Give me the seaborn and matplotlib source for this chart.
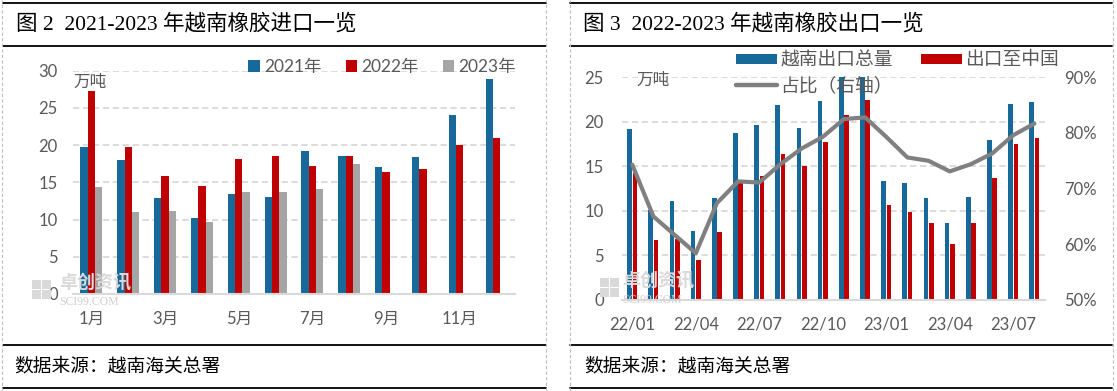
import numpy as np
import pandas as pd
import seaborn as sns
import matplotlib
matplotlib.use('Agg')
import matplotlib.pyplot as plt
from matplotlib.lines import Line2D
from matplotlib.patches import Patch, Rectangle

# ---- data: Vietnam rubber imports (10k t) ----
months = ['1月', '2月', '3月', '4月', '5月', '6月', '7月', '8月', '9月', '10月', '11月', '12月']
years = ['2021年', '2022年', '2023年']
imp_2021 = [19.7, 18.0, 12.85, 10.2, 13.5, 13.0, 19.2, 18.5, 17.1, 18.4, 24.0, 28.9]
imp_2022 = [27.3, 19.8, 15.85, 14.5, 18.2, 18.6, 17.2, 18.6, 16.4, 16.8, 20.0, 21.0]
imp_2023 = [14.4, 11.0, 11.15, 9.7, 13.65, 13.65, 14.1, 17.5, np.nan, np.nan, np.nan, np.nan]

# ---- data: Vietnam rubber exports (10k t) and share to China (%) ----
periods = ['22/01', '22/02', '22/03', '22/04', '22/05', '22/06', '22/07', '22/08', '22/09', '22/10',
           '22/11', '22/12', '23/01', '23/02', '23/03', '23/04', '23/05', '23/06', '23/07', '23/08']
exp_total = [19.2, 10.1, 11.15, 7.8, 11.4, 18.75, 19.65, 21.85, 19.3, 22.35,
             25.2, 27.0, 13.4, 13.1, 11.5, 8.7, 11.6, 17.95, 21.97, 22.2]
exp_china = [14.3, 6.7, 6.9, 4.5, 7.6, 13.1, 13.9, 16.35, 15.0, 17.7,
             20.8, 22.4, 10.7, 9.9, 8.6, 6.3, 8.6, 13.7, 17.5, 18.15]
share = [74.3, 65.0, 61.7, 58.4, 67.4, 71.3, 71.1, 74.4, 77.2, 79.3,
         82.5, 82.8, 79.3, 75.6, 75.0, 73.1, 74.4, 76.3, 79.6, 81.7]
series_exp = ['越南出口总量', '出口至中国']

BLUE = '#17699A'
RED = '#C00000'
GREY = '#A5A5A5'
LINE = '#808080'
TXT = '#595959'
GRID = '#D9D9D9'
WM = '#D9D9D9'

sns.set_style('white')
plt.rcParams['font.family'] = ['Lato', 'Noto Sans CJK SC']
plt.rcParams['axes.unicode_minus'] = False

W, H = 1117, 391
fig = plt.figure(figsize=(W / 100, H / 100), dpi=100)

def fx(x):
    return x / W

def fy(y):
    return 1 - y / H

def style_ax(ax):
    for s in ['top', 'right', 'left']:
        ax.spines[s].set_visible(False)
    ax.spines['bottom'].set_color(GRID)
    ax.spines['bottom'].set_linewidth(1.5)
    ax.yaxis.grid(True, color=GRID, linestyle=(0, (3.5, 2)), linewidth=1.3)
    ax.xaxis.grid(False)
    ax.set_axisbelow(True)
    ax.tick_params(length=0, labelsize=12, labelcolor=TXT)
    ax.set_xlabel('')
    ax.set_ylabel('')

# ---------------- left: imports ----------------
df_imp = pd.DataFrame({
    'month': months * 3,
    'year': [y for y in years for _ in months],
    'value': imp_2021 + imp_2022 + imp_2023,
})
ax1 = fig.add_axes([fx(73), fy(294), fx(515) - fx(73), fy(70.7) - fy(294)])
sns.barplot(data=df_imp, x='month', y='value', hue='year', hue_order=years,
            palette=[BLUE, RED, GREY], width=0.6, saturation=1, linewidth=0,
            ax=ax1, legend=False)
style_ax(ax1)
ax1.set_ylim(0, 30)
ax1.set_xlim(-0.5, 11.5)
ax1.set_yticks(range(0, 31, 5))
ax1.set_xticks(range(0, 12, 2))
ax1.set_xticklabels(months[::2])
ax1.tick_params(axis='y', pad=11)
ax1.tick_params(axis='x', pad=12)
ax1.text(0.0, 0.985, '万吨', transform=ax1.transAxes, fontsize=12, color=TXT, va='top', ha='left')
h1 = [Patch(facecolor=c, edgecolor='none') for c in [BLUE, RED, GREY]]
ax1.legend(h1, years, loc='center right', bbox_to_anchor=(fx(516), fy(67)),
           bbox_transform=fig.transFigure, ncol=3, frameon=False, fontsize=12.5,
           labelcolor=TXT, handlelength=0.65, handleheight=0.65, handletextpad=0.25,
           columnspacing=1.4, borderpad=0, borderaxespad=0)

# ---------------- right: exports ----------------
df_exp = pd.DataFrame({
    'period': periods * 2,
    'series': [s for s in series_exp for _ in periods],
    'value': exp_total + exp_china,
})
ax2 = fig.add_axes([fx(621.7), fy(300), fx(1045) - fx(621.7), fy(77.3) - fy(300)])
sns.barplot(data=df_exp, x='period', y='value', hue='series', hue_order=series_exp,
            palette=[BLUE, RED], width=0.5, gap=0.12, saturation=1, linewidth=0,
            ax=ax2, legend=False)
style_ax(ax2)
ax2.set_ylim(0, 25)
ax2.set_xlim(-0.5, len(periods) - 0.5)
ax2.set_yticks(range(0, 26, 5))
ax2.set_xticks(range(0, len(periods), 3))
ax2.set_xticklabels(periods[::3])
ax2.tick_params(axis='y', pad=13)
ax2.tick_params(axis='x', pad=12)
ax2.text(0.036, 0.99, '万吨', transform=ax2.transAxes, fontsize=12, color=TXT, va='center', ha='left')

ax3 = ax2.twinx()
sns.lineplot(x=np.arange(len(periods)), y=share, color=LINE, linewidth=3.0, ax=ax3,
             solid_joinstyle='round', solid_capstyle='round')
ax3.set_ylim(50, 90)
ax3.set_yticks(range(50, 91, 10))
ax3.set_yticklabels([f'{v}%' for v in range(50, 91, 10)])
for s in ax3.spines.values():
    s.set_visible(False)
ax3.tick_params(length=0, labelsize=12, labelcolor=TXT, pad=14)
ax3.set_ylabel('')
ax3.grid(False)

h2 = [Patch(facecolor=BLUE, edgecolor='none'), Line2D([], [], color=LINE, lw=3.2),
      Patch(facecolor=RED, edgecolor='none')]
l2 = ['越南出口总量', '占比（右轴）', '出口至中国']
ax3.legend(h2, l2, loc='upper left', bbox_to_anchor=(fx(736), fy(51)),
           bbox_transform=fig.transFigure, ncol=2, frameon=False, fontsize=13.5,
           labelcolor=TXT, handlelength=2.2, handleheight=0.45, handletextpad=0.15,
           columnspacing=1.5, labelspacing=0.42, borderpad=0, borderaxespad=0)

# ---------------- watermark ----------------
for x0, y0, tx in [(32, 290, 59), (600, 288, 622)]:
    for dx, dy in [(0, 0), (10, 0), (0, 10), (10, 10)]:
        fig.add_artist(Rectangle((fx(x0 + dx), fy(y0 - 1 + dy)), fx(9), 9 / H,
                                 facecolor=WM, edgecolor='none'))
    fig.text(fx(tx), fy(y0 - 8), '卓创资讯', fontsize=13, color=WM,
             fontweight='bold', va='center', ha='left')
    fig.text(fx(tx), fy(y0 + 12), 'SCI99.COM', fontsize=8.5, color='#CFCFCF',
             family='Liberation Serif', va='center', ha='left')

# ---------------- frame, titles, source ----------------
for xa, xb in [(3, 546), (570, 1112)]:
    for yy in [3, 46, 345, 388]:
        fig.add_artist(Line2D([fx(xa), fx(xb)], [fy(yy), fy(yy)], color='black', lw=1.3))
for xx in [2, 546, 570, 1113]:
    fig.add_artist(Line2D([fx(xx), fx(xx)], [0, 1], color='#BFBFBF', lw=0.8, linestyle=(0, (3, 2))))

title_font = ['Liberation Serif', 'Noto Sans CJK SC']
fig.text(fx(16), fy(24.5), '图 2  2021-2023 年越南橡胶进口一览', fontsize=15.5, family=title_font,
         color='black', va='center', ha='left')
fig.text(fx(583), fy(24.5), '图 3  2022-2023 年越南橡胶出口一览', fontsize=15.5, family=title_font,
         color='black', va='center', ha='left')
fig.text(fx(14), fy(366), '数据来源：越南海关总署', fontsize=13.5, family=['Noto Sans CJK SC'],
         color='black', va='center', ha='left')
fig.text(fx(584), fy(366), '数据来源：越南海关总署', fontsize=13.5, family=['Noto Sans CJK SC'],
         color='black', va='center', ha='left')

fig.savefig('out.png', dpi=100)
